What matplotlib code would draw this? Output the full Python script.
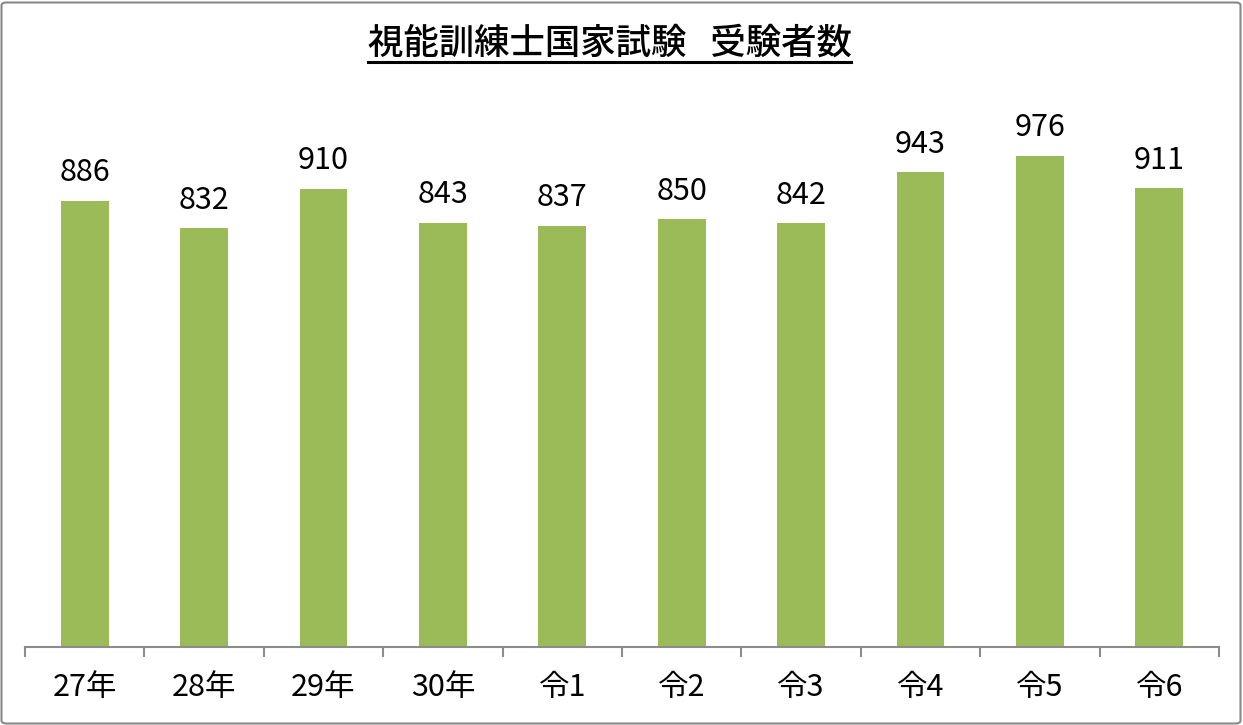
import matplotlib
matplotlib.use("Agg")
import matplotlib.pyplot as plt
import numpy as np
from matplotlib.patches import FancyBboxPatch
from matplotlib.lines import Line2D

plt.rcParams["font.family"] = ["Noto Sans CJK JP", "DejaVu Sans"]

# data
categories = ["27年", "28年", "29年", "30年", "令1", "令2", "令3", "令4", "令5", "令6"]
examinees = [886, 832, 910, 843, 837, 850, 842, 943, 976, 911]
title = "視能訓練士国家試験   受験者数"

BAR_COLOR = "#9BBB59"
AXIS_COLOR = "#8C8C8C"

W, H = 1243, 725
fig = plt.figure(figsize=(W / 100, H / 100), dpi=100)
ax = fig.add_axes([25 / W, 1 - 646.6 / H, (1219 - 25) / W, (646.6 - 43) / H])

x = np.arange(len(categories))
bars = ax.bar(x, examinees, width=0.4, color=BAR_COLOR, zorder=2)

for xi, v in zip(x, examinees):
    ax.annotate(f"{v}", (xi, v), xytext=(0, 14), textcoords="offset points",
                ha="center", va="baseline", fontsize=22, color="black")

ax.set_xlim(-0.5, len(categories) - 0.5)
ax.set_ylim(0, 1200)
ax.set_yticks([])
for side in ("left", "right", "top"):
    ax.spines[side].set_visible(False)
ax.spines["bottom"].set_color(AXIS_COLOR)
ax.spines["bottom"].set_linewidth(1.5)

ax.set_xticks(x)
ax.set_xticklabels(categories, fontsize=22)
ax.tick_params(axis="x", which="major", length=0, pad=18)
ax.set_xticks(np.arange(-0.5, len(categories)), minor=True)
ax.tick_params(axis="x", which="minor", length=7, width=1.5, color=AXIS_COLOR)

# title with underline
t = fig.text(609.5 / W, 1 - 44 / H, title, ha="center", va="center",
             fontsize=25.5, fontweight="medium")
fig.canvas.draw()
bb = t.get_window_extent(renderer=fig.canvas.get_renderer())
y_line = 1 - 62 / H
fig.add_artist(Line2D([bb.x0 / W, bb.x1 / W], [y_line, y_line],
                      color="black", lw=2.2, transform=fig.transFigure))

# chart border
fig.add_artist(FancyBboxPatch((1.5 / W, 1.5 / H), (W - 4) / W, (H - 4) / H,
                              boxstyle="round,pad=0,rounding_size=0.004",
                              transform=fig.transFigure, fill=False,
                              edgecolor="#888888", lw=1.5))

fig.savefig("out.png", dpi=100)
